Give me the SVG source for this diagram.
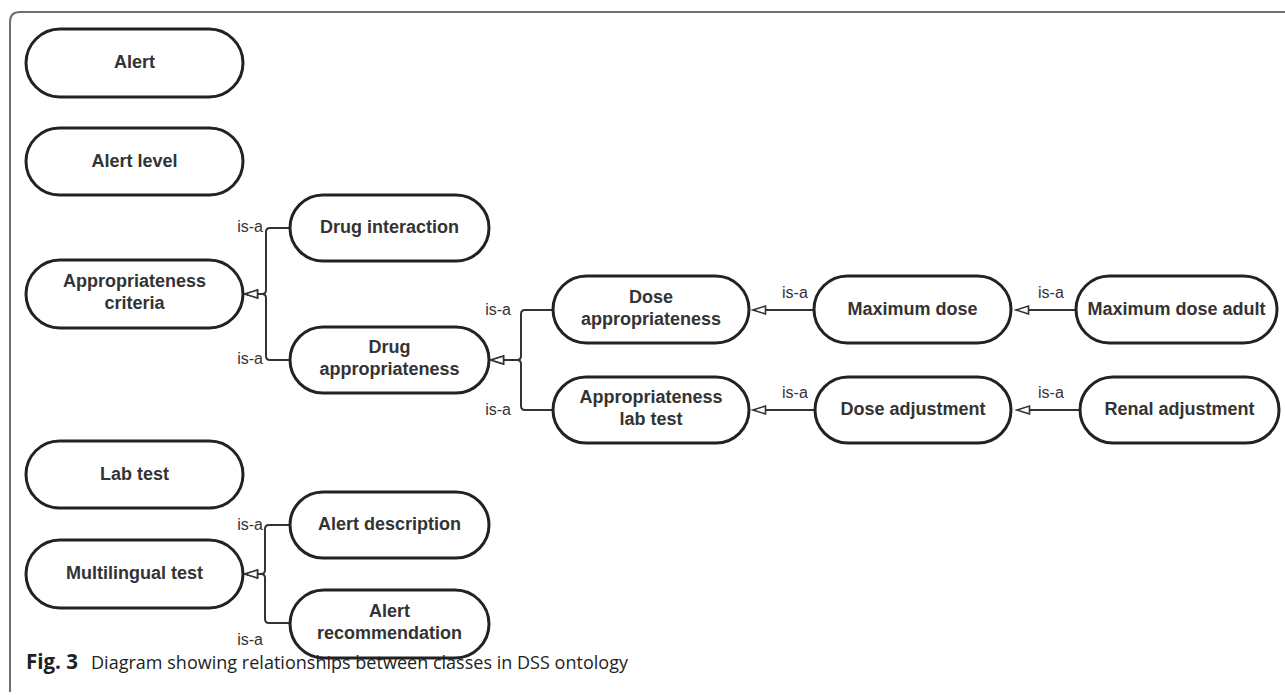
<svg xmlns="http://www.w3.org/2000/svg" width="1285" height="695" viewBox="0 0 1285 695">
<style>
.node rect{fill:#fff;stroke:#222;stroke-width:3}
.node text{font-family:"Liberation Sans",Arial,sans-serif;font-weight:bold;font-size:18px;fill:#333;text-anchor:middle}
.conn path{fill:none;stroke:#333;stroke-width:2}
.lbl{font-family:"Liberation Sans",Arial,sans-serif;font-size:16px;fill:#333}
.frame{fill:none;stroke:#6f6f6f;stroke-width:2}
.cap{font-family:"Open Sans","Noto Sans",sans-serif;font-size:18px;fill:#222}
</style>
<defs>
<marker id="tri" markerUnits="userSpaceOnUse" markerWidth="16" markerHeight="12" refX="14" refY="6" orient="auto">
<path d="M1.5,2 L14,6 L1.5,10 Z" fill="#fff" stroke="#333" stroke-width="1.6" stroke-linejoin="miter"/>
</marker>
</defs>
<rect width="1285" height="695" fill="#fff"/>
<path class="frame" d="M10,692 V22 Q10,12 20,12 H1285"/>

<g class="conn">
<path d="M290,228 H270 Q266,228 266,232 V290 Q266,294 262,294 H245" marker-end="url(#tri)"/>
<path d="M290,360 H270 Q266,360 266,356 V298 Q266,294 262,294 H245" marker-end="url(#tri)"/>
<path d="M553,310 H525 Q521,310 521,314 V356 Q521,360 517,360 H491" marker-end="url(#tri)"/>
<path d="M553,410 H525 Q521,410 521,406 V364 Q521,360 517,360 H491" marker-end="url(#tri)"/>
<path d="M290,525 H269 Q265,525 265,529 V570 Q265,574 261,574 H245" marker-end="url(#tri)"/>
<path d="M290,623 H269 Q265,623 265,619 V578 Q265,574 261,574 H245" marker-end="url(#tri)"/>
<path d="M814,310 H753" marker-end="url(#tri)"/>
<path d="M815,410 H753" marker-end="url(#tri)"/>
<path d="M1076,310 H1016" marker-end="url(#tri)"/>
<path d="M1080,410 H1017" marker-end="url(#tri)"/>
<text class="lbl" x="263" y="232" text-anchor="end">is-a</text>
<text class="lbl" x="263" y="364" text-anchor="end">is-a</text>
<text class="lbl" x="511" y="315" text-anchor="end">is-a</text>
<text class="lbl" x="511" y="415" text-anchor="end">is-a</text>
<text class="lbl" x="263" y="530" text-anchor="end">is-a</text>
<text class="lbl" x="263" y="645" text-anchor="end">is-a</text>
<text class="lbl" x="782" y="298">is-a</text>
<text class="lbl" x="1038" y="298">is-a</text>
<text class="lbl" x="782" y="398">is-a</text>
<text class="lbl" x="1038" y="398">is-a</text>
</g>

<g id="alert" class="node"><rect x="26" y="29" width="217" height="68" rx="34"/><text x="134.5" y="68">Alert</text></g>
<g id="alert-level" class="node"><rect x="26" y="128" width="217" height="67" rx="33.5"/><text x="134.5" y="167">Alert level</text></g>
<g id="appropriateness-criteria" class="node"><rect x="26" y="260" width="217" height="68" rx="34"/><text x="134.5" y="287">Appropriateness</text><text x="134.5" y="309">criteria</text></g>
<g id="drug-interaction" class="node"><rect x="290" y="195" width="199" height="66" rx="33"/><text x="389.5" y="233">Drug interaction</text></g>
<g id="drug-appropriateness" class="node"><rect x="290" y="327" width="199" height="66" rx="33"/><text x="389.5" y="353">Drug</text><text x="389.5" y="375">appropriateness</text></g>
<g id="dose-appropriateness" class="node"><rect x="553" y="276" width="196" height="67" rx="33.5"/><text x="651" y="303">Dose</text><text x="651" y="325">appropriateness</text></g>
<g id="appropriateness-lab-test" class="node"><rect x="553" y="377" width="196" height="66" rx="33"/><text x="651" y="403">Appropriateness</text><text x="651" y="425">lab test</text></g>
<g id="maximum-dose" class="node"><rect x="814" y="276" width="197" height="67" rx="33.5"/><text x="912.5" y="314.5">Maximum dose</text></g>
<g id="dose-adjustment" class="node"><rect x="815" y="377" width="196" height="66" rx="33"/><text x="913" y="415">Dose adjustment</text></g>
<g id="maximum-dose-adult" class="node"><rect x="1076" y="276" width="201" height="67" rx="33.5"/><text x="1176.5" y="314.5">Maximum dose adult</text></g>
<g id="renal-adjustment" class="node"><rect x="1080" y="377" width="199" height="66" rx="33"/><text x="1179.5" y="415">Renal adjustment</text></g>
<g id="lab-test" class="node"><rect x="26" y="441" width="217" height="67" rx="33.5"/><text x="134.5" y="479.5">Lab test</text></g>
<g id="multilingual-test" class="node"><rect x="26" y="540" width="217" height="68" rx="34"/><text x="134.5" y="579">Multilingual test</text></g>
<g id="alert-description" class="node"><rect x="290" y="492" width="199" height="66" rx="33"/><text x="389.5" y="530">Alert description</text></g>
<g id="alert-recommendation" class="node"><rect x="290" y="590" width="199" height="68" rx="34"/><text x="389.5" y="617">Alert</text><text x="389.5" y="639">recommendation</text></g>

<text class="cap" x="26" y="669"><tspan font-weight="bold" font-size="20.5">Fig. 3</tspan><tspan x="91" textLength="537">Diagram showing relationships between classes in DSS ontology</tspan></text>
</svg>
